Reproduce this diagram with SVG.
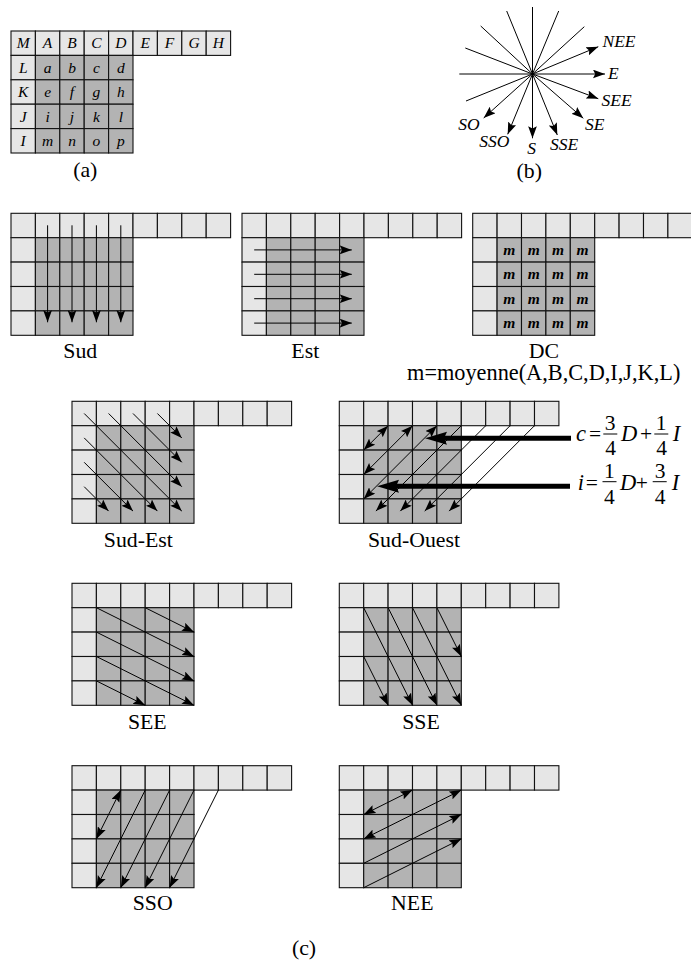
<svg xmlns="http://www.w3.org/2000/svg" xmlns:xlink="http://www.w3.org/1999/xlink" width="691" height="960" viewBox="0 0 691 960">
<style>
text{font-family:"Liberation Serif","Times New Roman",serif;fill:#000}
.cap{font-size:21.8px;text-anchor:middle}
.lab{font-size:15.5px;font-style:italic;text-anchor:middle}
.bm{font-size:15.5px;font-style:italic;font-weight:bold;text-anchor:middle}
.dir{font-size:17.5px;font-style:italic}
.eq{font-size:21.5px;text-anchor:middle}
.eqi{font-size:22.5px;font-style:italic;text-anchor:middle}
.lt{fill:#e6e6e6;stroke:#111;stroke-width:1.1}
.dk{fill:#b3b3b3;stroke:#111;stroke-width:1.1}
.a{fill:none;stroke:#000;stroke-width:1;marker-end:url(#h)}
.d{fill:none;stroke:#000;stroke-width:1;marker-end:url(#h);marker-start:url(#h)}
.p{fill:none;stroke:#000;stroke-width:1}
.t{fill:none;stroke:#000;stroke-width:5}
.b{stroke:#000;stroke-width:1}
</style>
<defs>
<marker id="h" markerUnits="userSpaceOnUse" markerWidth="12" markerHeight="9" refX="11" refY="4" orient="auto-start-reverse" viewBox="0 0 11 8"><path d="M0 0L11 4L0 8L2 4Z" fill="#000"/></marker>
<g id="grid">
<rect class="lt" width="24.4" height="24.4"/><rect class="lt" x="24.4" width="24.4" height="24.4"/><rect class="lt" x="48.8" width="24.4" height="24.4"/><rect class="lt" x="73.2" width="24.4" height="24.4"/><rect class="lt" x="97.6" width="24.4" height="24.4"/><rect class="lt" x="122" width="24.4" height="24.4"/><rect class="lt" x="146.4" width="24.4" height="24.4"/><rect class="lt" x="170.8" width="24.4" height="24.4"/><rect class="lt" x="195.2" width="24.4" height="24.4"/>
<rect class="lt" y="24.4" width="24.4" height="24.4"/><rect class="lt" y="48.8" width="24.4" height="24.4"/><rect class="lt" y="73.2" width="24.4" height="24.4"/><rect class="lt" y="97.6" width="24.4" height="24.4"/>
<rect class="dk" x="24.4" y="24.4" width="24.4" height="24.4"/><rect class="dk" x="48.8" y="24.4" width="24.4" height="24.4"/><rect class="dk" x="73.2" y="24.4" width="24.4" height="24.4"/><rect class="dk" x="97.6" y="24.4" width="24.4" height="24.4"/>
<rect class="dk" x="24.4" y="48.8" width="24.4" height="24.4"/><rect class="dk" x="48.8" y="48.8" width="24.4" height="24.4"/><rect class="dk" x="73.2" y="48.8" width="24.4" height="24.4"/><rect class="dk" x="97.6" y="48.8" width="24.4" height="24.4"/>
<rect class="dk" x="24.4" y="73.2" width="24.4" height="24.4"/><rect class="dk" x="48.8" y="73.2" width="24.4" height="24.4"/><rect class="dk" x="73.2" y="73.2" width="24.4" height="24.4"/><rect class="dk" x="97.6" y="73.2" width="24.4" height="24.4"/>
<rect class="dk" x="24.4" y="97.6" width="24.4" height="24.4"/><rect class="dk" x="48.8" y="97.6" width="24.4" height="24.4"/><rect class="dk" x="73.2" y="97.6" width="24.4" height="24.4"/><rect class="dk" x="97.6" y="97.6" width="24.4" height="24.4"/>
</g>
</defs>

<g id="panel-a">
<use href="#grid" x="11" y="31"/>
<text class="lab" x="23.2" y="48.3">M</text><text class="lab" x="47.6" y="48.3">A</text><text class="lab" x="72" y="48.3">B</text><text class="lab" x="96.4" y="48.3">C</text><text class="lab" x="120.8" y="48.3">D</text><text class="lab" x="145.2" y="48.3">E</text><text class="lab" x="169.6" y="48.3">F</text><text class="lab" x="194" y="48.3">G</text><text class="lab" x="218.4" y="48.3">H</text>
<text class="lab" x="23.2" y="72.7">L</text><text class="lab" x="47.6" y="72.7">a</text><text class="lab" x="72" y="72.7">b</text><text class="lab" x="96.4" y="72.7">c</text><text class="lab" x="120.8" y="72.7">d</text>
<text class="lab" x="23.2" y="97.1">K</text><text class="lab" x="47.6" y="97.1">e</text><text class="lab" x="72" y="97.1">f</text><text class="lab" x="96.4" y="97.1">g</text><text class="lab" x="120.8" y="97.1">h</text>
<text class="lab" x="23.2" y="121.5">J</text><text class="lab" x="47.6" y="121.5">i</text><text class="lab" x="72" y="121.5">j</text><text class="lab" x="96.4" y="121.5">k</text><text class="lab" x="120.8" y="121.5">l</text>
<text class="lab" x="23.2" y="145.9">I</text><text class="lab" x="47.6" y="145.9">m</text><text class="lab" x="72" y="145.9">n</text><text class="lab" x="96.4" y="145.9">o</text><text class="lab" x="120.8" y="145.9">p</text>
<text class="cap" x="85.3" y="176.5">(a)</text>
</g>

<g id="panel-b">
<text class="dir" x="602.5" y="47">NEE</text>
<text class="dir" x="608" y="78.5">E</text>
<text class="dir" x="601.5" y="105.5">SEE</text>
<text class="dir" x="585" y="129.5">SE</text>
<text class="dir" x="458.3" y="129.5">SO</text>
<text class="dir" x="479.3" y="147">SSO</text>
<text class="dir" x="527.3" y="153.5">S</text>
<text class="dir" x="550" y="150">SSE</text>
<text class="cap" x="529.3" y="177.5">(b)</text>
</g>

<g id="sud"><use href="#grid" x="11" y="213.3"/><text class="cap" x="80.3" y="358">Sud</text></g>
<g id="est"><use href="#grid" x="242" y="213.3"/><text class="cap" x="305.3" y="358">Est</text></g>
<g id="dc"><use href="#grid" x="472.7" y="213.3"/>
<text class="bm" x="509.3" y="255">m</text><text class="bm" x="533.7" y="255">m</text><text class="bm" x="558.1" y="255">m</text><text class="bm" x="582.5" y="255">m</text>
<text class="bm" x="509.3" y="279.4">m</text><text class="bm" x="533.7" y="279.4">m</text><text class="bm" x="558.1" y="279.4">m</text><text class="bm" x="582.5" y="279.4">m</text>
<text class="bm" x="509.3" y="303.8">m</text><text class="bm" x="533.7" y="303.8">m</text><text class="bm" x="558.1" y="303.8">m</text><text class="bm" x="582.5" y="303.8">m</text>
<text class="bm" x="509.3" y="328.2">m</text><text class="bm" x="533.7" y="328.2">m</text><text class="bm" x="558.1" y="328.2">m</text><text class="bm" x="582.5" y="328.2">m</text>
<text class="cap" x="544" y="357.5">DC</text>
<text class="cap" x="543.7" y="380" style="font-size:22.3px">m=moyenne(A,B,C,D,I,J,K,L)</text>
</g>
<g id="sud-est"><use href="#grid" x="72" y="401.3"/><text class="cap" x="138.3" y="547">Sud-Est</text></g>
<g id="sud-ouest"><use href="#grid" x="339.3" y="401.3"/><text class="cap" x="414" y="547">Sud-Ouest</text></g>
<g id="see"><use href="#grid" x="72" y="583.3"/><text class="cap" x="147.3" y="729">SEE</text></g>
<g id="sse"><use href="#grid" x="339.3" y="583.3"/><text class="cap" x="421" y="729">SSE</text></g>
<g id="sso"><use href="#grid" x="72" y="765.7"/><text class="cap" x="152.7" y="910">SSO</text></g>
<g id="nee"><use href="#grid" x="339.3" y="765.7"/><text class="cap" x="412.3" y="910">NEE</text></g>
<text class="cap" x="304" y="954.5">(c)</text>

<g id="connectors">
<g id="c-b">
<path class="p" d="M532.5 74V7M532.5 74L558.7 11M532.5 74L506.7 11M532.5 74L584.3 26.7M532.5 74L480.7 26M532.5 74L465.3 48M532.5 74H459.3M532.5 74L466 101"/>
<path class="a" d="M532.5 74L598.3 46.7"/><path class="a" d="M532.5 74H605"/><path class="a" d="M532.5 74L598.3 98.7"/><path class="a" d="M532.5 74L583.3 118.3"/><path class="a" d="M532.5 74L483.7 118"/><path class="a" d="M532.5 74L507.7 134.3"/><path class="a" d="M532.5 74V138.3"/><path class="a" d="M532.5 74L557.3 135"/>
</g>
<g transform="translate(11 213.3)"><path class="a" d="M36.6 12V109"/><path class="a" d="M61 12V109"/><path class="a" d="M85.4 12V109"/><path class="a" d="M109.8 12V109"/></g>
<g transform="translate(242 213.3)"><path class="a" d="M12.2 36.6H109.8"/><path class="a" d="M12.2 61H109.8"/><path class="a" d="M12.2 85.4H109.8"/><path class="a" d="M12.2 109.8H109.8"/></g>
<g transform="translate(72 401.3)"><path class="a" d="M85.4 12.2L109.8 36.6"/><path class="a" d="M61 12.2L109.8 61"/><path class="a" d="M36.6 12.2L109.8 85.4"/><path class="a" d="M12.2 12.2L109.8 109.8"/><path class="a" d="M12.2 36.6L85.4 109.8"/><path class="a" d="M12.2 61L61 109.8"/><path class="a" d="M12.2 85.4L36.6 109.8"/></g>
<g transform="translate(339.3 401.3)"><path class="d" d="M48.8 24.4L24.4 48.8"/><path class="d" d="M73.2 24.4L24.4 73.2"/><path class="d" d="M97.6 24.4L24.4 97.6"/><path class="a" d="M122 24.4L36.6 109.8"/><path class="a" d="M146.4 24.4L61 109.8"/><path class="a" d="M170.8 24.4L85.4 109.8"/><path class="a" d="M195.2 24.4L109.8 109.8"/></g>
<g id="c-thick">
<path class="t" d="M571 438.3H440"/><path d="M425 438.3L447 431.8L444 438.3L447 444.8Z"/>
<path class="t" d="M570 486.3H392"/><path d="M377 486.3L399 479.8L396 486.3L399 492.8Z"/>
</g>
<g transform="translate(72 583.3)"><path class="a" d="M73.2 24.4L122 48.8"/><path class="a" d="M24.4 24.4L122 73.2"/><path class="a" d="M24.4 48.8L122 97.6"/><path class="a" d="M24.4 73.2L122 122"/><path class="a" d="M24.4 97.6L73.2 122"/></g>
<g transform="translate(339.3 583.3)"><path class="a" d="M97.6 24.4L122 73.2"/><path class="a" d="M73.2 24.4L122 122"/><path class="a" d="M48.8 24.4L97.6 122"/><path class="a" d="M24.4 24.4L73.2 122"/><path class="a" d="M24.4 73.2L48.8 122"/></g>
<g transform="translate(72 765.7)"><path class="d" d="M48.8 24.4L24.4 73.2"/><path class="a" d="M73.2 24.4L24.4 122"/><path class="a" d="M97.6 24.4L48.8 122"/><path class="a" d="M122 24.4L73.2 122"/><path class="a" d="M146.4 24.4L97.6 122"/></g>
<g transform="translate(339.3 765.7)"><path class="d" d="M73.2 24.4L24.4 48.8"/><path class="d" d="M122 24.4L24.4 73.2"/><path class="a" d="M24.4 97.6L122 48.8"/><path class="a" d="M24.4 122L122 73.2"/></g>
</g>

<g id="equations">
<text class="eqi" x="581" y="440.7">c</text><text class="eq" x="595" y="440.7">=</text>
<text class="eq" x="610" y="430">3</text><line class="b" x1="603.3" y1="434" x2="617.3" y2="434"/><text class="eq" x="610.5" y="455">4</text>
<text class="eqi" x="629" y="440.7">D</text><text class="eq" x="646" y="440.7">+</text>
<text class="eq" x="661" y="430">1</text><line class="b" x1="654.3" y1="434" x2="668.3" y2="434"/><text class="eq" x="661.5" y="455">4</text>
<text class="eqi" x="676.5" y="440.7">I</text>
<text class="eqi" x="581" y="490">i</text><text class="eq" x="591.7" y="490">=</text>
<text class="eq" x="609.3" y="478.3">1</text><line class="b" x1="602.5" y1="481.7" x2="616.5" y2="481.7"/><text class="eq" x="609.3" y="503.5">4</text>
<text class="eqi" x="628" y="490">D</text><text class="eq" x="641.7" y="490">+</text>
<text class="eq" x="660" y="478.3">3</text><line class="b" x1="652.7" y1="481.7" x2="666.7" y2="481.7"/><text class="eq" x="660" y="503.5">4</text>
<text class="eqi" x="675.5" y="490">I</text>
</g>
</svg>
